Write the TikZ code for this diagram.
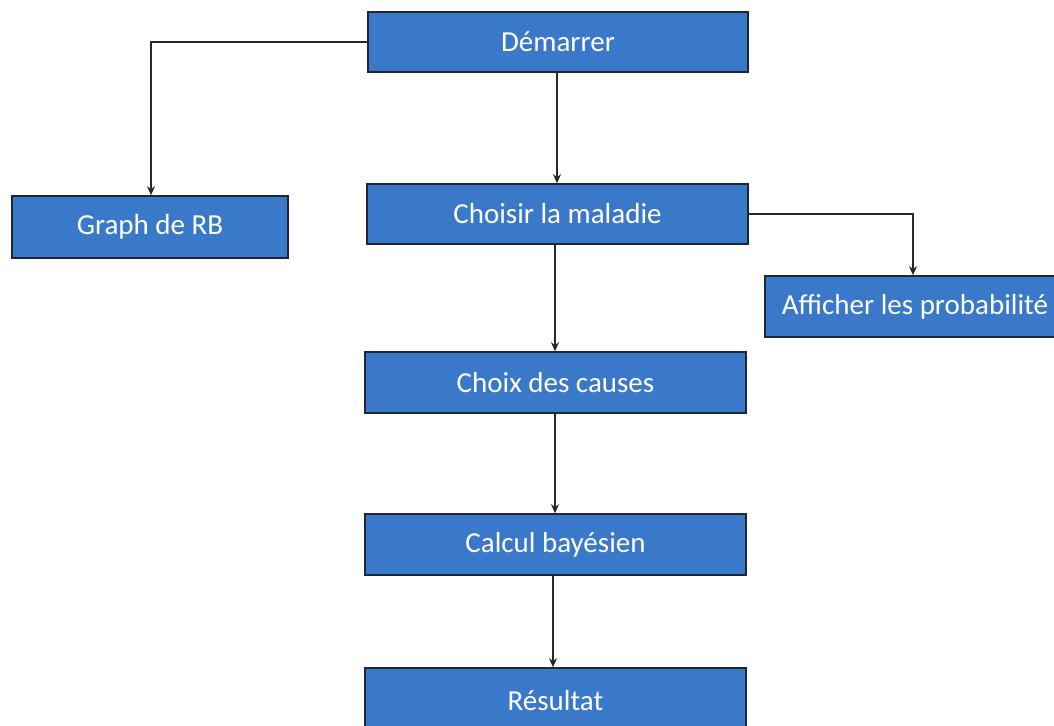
\documentclass[tikz,border=0pt]{standalone}
\usepackage{fontspec}
\setmainfont{Carlito}
\usetikzlibrary{arrows.meta}
\definecolor{boxblue}{RGB}{58,121,201}
\definecolor{boxedge}{RGB}{30,38,52}
\definecolor{linkgray}{RGB}{40,40,40}
\begin{document}
\begin{tikzpicture}[x=1pt,y=-1pt,
  stepbox/.style={draw=boxedge, line width=1.6pt, fill=boxblue, text=white,
    inner sep=0pt, font=\fontsize{29}{32}\selectfont},
  link/.style={draw=linkgray, line width=1.4pt,
    -{Stealth[length=9pt,width=8pt]}}]
\useasboundingbox (0,0) rectangle (1054,725);
\begin{scope}
\clip (0,0) rectangle (1054,725);
\node[stepbox, minimum width=380pt, minimum height=60pt] (start) at (558,42) {Démarrer};
\node[stepbox, minimum width=276pt, minimum height=62pt] (graph) at (150,227) {Graph de RB};
\node[stepbox, minimum width=381pt, minimum height=60pt] (choose) at (557.5,214) {Choisir la maladie};
\node[stepbox, minimum width=300pt, minimum height=61pt] (show) at (915,306.5) {Afficher les probabilité};
\node[stepbox, minimum width=381pt, minimum height=61pt] (causes) at (555.5,382.5) {Choix des causes};
\node[stepbox, minimum width=381pt, minimum height=61pt] (bayes) at (555.5,544.5) {Calcul bayésien};
\node[stepbox, minimum width=381pt, minimum height=66pt] (result) at (555.5,701) {Résultat};
\end{scope}
\draw[link] (start.west) -| (graph.north -| 151,0);
\draw[link] (start.south -| 557,0) -- (choose.north -| 557,0);
\draw[link] (choose.east) -| (show.north -| 913,0);
\draw[link] (choose.south -| 555,0) -- (causes.north -| 555,0);
\draw[link] (causes.south -| 555,0) -- (bayes.north -| 555,0);
\draw[link] (bayes.south -| 553,0) -- (result.north -| 553,0);
\end{tikzpicture}
\end{document}
